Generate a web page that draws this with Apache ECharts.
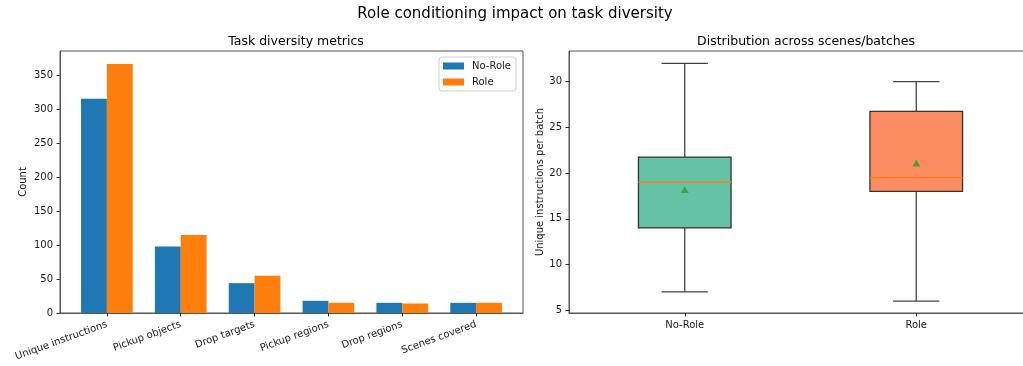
<!DOCTYPE html>
<html>
<head>
<meta charset="utf-8">
<script src="https://cdn.jsdelivr.net/npm/echarts@6/dist/echarts.min.js"></script>
<style>
html,body{margin:0;padding:0;background:#fff;}
#chart{width:1023px;height:366px;}
</style>
</head>
<body>
<div id="chart"></div>
<script>
// ---- data ----
const metricCategories = ['Unique instructions','Pickup objects','Drop targets','Pickup regions','Drop regions','Scenes covered'];
const noRoleCounts = [316, 98, 44, 18, 15, 15];
const roleCounts = [367, 115, 55, 15, 14, 15];
const countTicks = [0, 50, 100, 150, 200, 250, 300, 350];

const boxCategories = ['No-Role', 'Role'];
const boxLow = [7, 6];
const boxQ1 = [14, 18];
const boxMedian = [19, 19.5];
const boxQ3 = [21.75, 26.75];
const boxHigh = [32, 30];
const boxMean = [18.2, 21.1];
const batchTicks = [5, 10, 15, 20, 25, 30];

const FONT = 'DejaVu Sans';
const TXT = '#1a1a1a';
const SPINE = '#555';
const boxFills = ['#66c2a5', '#fc8d62'];

const metricIdx = metricCategories.map((_, i) => i);
const chart = echarts.init(document.getElementById('chart'), null, {renderer: 'canvas'});

const option = {
  backgroundColor: '#fff',
  animation: false,
  textStyle: {fontFamily: FONT},
  title: [
    {text: 'Role conditioning impact on task diversity', left: 510, top: 2, textAlign: 'center',
     textStyle: {fontFamily: FONT, fontSize: 15, fontWeight: 'normal', color: '#000'}},
    {text: 'Task diversity metrics', left: 291, top: 30, textAlign: 'center',
     textStyle: {fontFamily: FONT, fontSize: 12.5, fontWeight: 'normal', color: '#000'}},
    {text: 'Distribution across scenes/batches', left: 801, top: 30, textAlign: 'center',
     textStyle: {fontFamily: FONT, fontSize: 12.5, fontWeight: 'normal', color: '#000'}}
  ],
  legend: {
    data: ['No-Role', 'Role'],
    orient: 'vertical',
    left: 439, top: 57,
    icon: 'rect',
    itemWidth: 21, itemHeight: 7, itemGap: 4,
    padding: [3, 5, 3, 4],
    backgroundColor: '#fff',
    borderColor: '#d0d0d0', borderWidth: 1, borderRadius: 3,
    textStyle: {fontFamily: FONT, fontSize: 10, color: TXT, lineHeight: 12, padding: [0, 0, 0, 3]}
  },
  grid: [
    {left: 60, width: 463, top: 51, height: 262, show: true, borderColor: SPINE, borderWidth: 1,
     containLabel: false, outerBoundsMode: 'none'},
    {left: 569, width: 463, top: 51, height: 262, show: true, borderColor: SPINE, borderWidth: 1,
     containLabel: false, outerBoundsMode: 'none'}
  ],
  xAxis: [
    {
      type: 'value', gridIndex: 0, min: -0.635, max: 5.635,
      axisLine: {show: true, onZero: false, lineStyle: {color: SPINE, width: 1}},
      axisTick: {show: true, length: 3.5, customValues: metricIdx, lineStyle: {color: '#333'}},
      axisLabel: {customValues: metricIdx, rotate: 20, margin: 11, fontSize: 10, color: TXT, fontFamily: FONT,
                  formatter: v => metricCategories[Math.round(v)]},
      splitLine: {show: false}
    },
    {
      type: 'category', gridIndex: 1, data: boxCategories, boundaryGap: true,
      axisLine: {show: true, onZero: false, lineStyle: {color: SPINE, width: 1}},
      axisTick: {show: true, length: 3.5, alignWithLabel: true, lineStyle: {color: '#333'}},
      axisLabel: {margin: 7, fontSize: 10, color: TXT, fontFamily: FONT},
      splitLine: {show: false}
    }
  ],
  yAxis: [
    {
      type: 'value', gridIndex: 0, min: 0, max: 386.3,
      name: 'Count', nameLocation: 'middle', nameGap: 32, nameRotate: 90,
      nameTextStyle: {fontFamily: FONT, fontSize: 10, color: TXT},
      axisLine: {show: true, onZero: false, lineStyle: {color: SPINE, width: 1}},
      axisTick: {show: true, length: 3.5, customValues: countTicks, lineStyle: {color: '#333'}},
      axisLabel: {customValues: countTicks, margin: 7, fontSize: 10, color: TXT, fontFamily: FONT},
      splitLine: {show: false}
    },
    {
      type: 'value', gridIndex: 1, min: 4.7, max: 33.35,
      name: 'Unique instructions per batch', nameLocation: 'middle', nameGap: 24, nameRotate: 90,
      nameTextStyle: {fontFamily: FONT, fontSize: 10, color: TXT},
      axisLine: {show: true, onZero: false, lineStyle: {color: SPINE, width: 1}},
      axisTick: {show: true, length: 3.5, customValues: batchTicks, lineStyle: {color: '#333'}},
      axisLabel: {customValues: batchTicks, margin: 7, fontSize: 10, color: TXT, fontFamily: FONT},
      splitLine: {show: false}
    }
  ],
  series: [
    {
      name: 'No-Role', type: 'bar', xAxisIndex: 0, yAxisIndex: 0,
      data: noRoleCounts.map((v, i) => [i, v]),
      barWidth: '35%', barGap: '0%',
      itemStyle: {color: '#1f77b4'}
    },
    {
      name: 'Role', type: 'bar', xAxisIndex: 0, yAxisIndex: 0,
      data: roleCounts.map((v, i) => [i, v]),
      barWidth: '35%', barGap: '0%',
      itemStyle: {color: '#ff7f0e'}
    },
    {
      type: 'custom', xAxisIndex: 1, yAxisIndex: 1,
      data: boxCategories.map((c, i) => [i, boxLow[i], boxQ1[i], boxMedian[i], boxQ3[i], boxHigh[i]]),
      encode: {x: 0, y: [1, 2, 3, 4, 5]},
      renderItem: function (params, api) {
        const i = api.value(0);
        const pLow = api.coord([i, api.value(1)]);
        const pQ1 = api.coord([i, api.value(2)]);
        const pMed = api.coord([i, api.value(3)]);
        const pQ3 = api.coord([i, api.value(4)]);
        const pHigh = api.coord([i, api.value(5)]);
        const band = api.size([1, 0])[0];
        const bw = band * 0.4;
        const cw = bw * 0.5;
        const x = pMed[0];
        const ln = {stroke: '#444', lineWidth: 1.3};
        return {
          type: 'group',
          children: [
            {type: 'line', shape: {x1: x, y1: pQ3[1], x2: x, y2: pHigh[1]}, style: ln},
            {type: 'line', shape: {x1: x, y1: pQ1[1], x2: x, y2: pLow[1]}, style: ln},
            {type: 'line', shape: {x1: x - cw / 2, y1: pHigh[1], x2: x + cw / 2, y2: pHigh[1]}, style: ln},
            {type: 'line', shape: {x1: x - cw / 2, y1: pLow[1], x2: x + cw / 2, y2: pLow[1]}, style: ln},
            {type: 'rect', shape: {x: x - bw / 2, y: pQ3[1], width: bw, height: pQ1[1] - pQ3[1]},
             style: {fill: boxFills[i], stroke: '#333', lineWidth: 1.3}},
            {type: 'line', shape: {x1: x - bw / 2, y1: pMed[1], x2: x + bw / 2, y2: pMed[1]},
             style: {stroke: '#ff7f0e', lineWidth: 1.3}}
          ]
        };
      },
      z: 2
    },
    {
      type: 'scatter', xAxisIndex: 1, yAxisIndex: 1,
      data: boxCategories.map((c, i) => [i, boxMean[i]]),
      symbol: 'triangle', symbolSize: [8, 7],
      itemStyle: {color: '#2ca02c'},
      z: 5
    }
  ]
};
chart.setOption(option);
</script>
</body>
</html>
